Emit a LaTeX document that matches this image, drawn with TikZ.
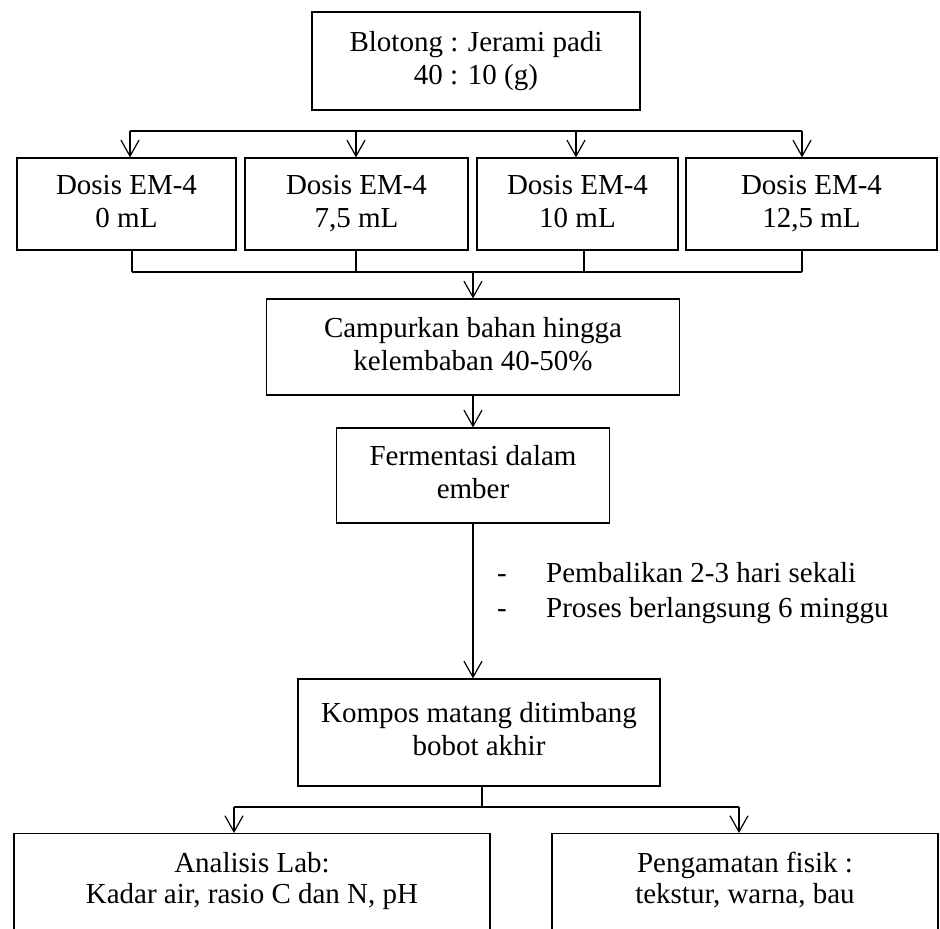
\documentclass[tikz,border=0pt]{standalone}
\usepackage{fontspec}
\setmainfont{Liberation Serif}
\usetikzlibrary{arrows.meta}
\begin{document}
\begin{tikzpicture}[x=1pt,y=-1pt,
  every node/.style={font=\fontsize{29}{33}\selectfont, inner sep=0pt},
  box/.style={draw, line width=1.2pt, align=center},
  con/.style={line width=1.2pt},
  arr/.style={con, -{Straight Barb[length=16pt,width=18pt]}}]
\useasboundingbox (0,0) rectangle (940,929);
\clip (0,0) rectangle (940,929);

% top box
\node[box, minimum width=328pt, minimum height=98pt] (top) at (476,61) {Blotong : Jerami padi\strut\\40 : 10 (g)\strut};

% dose boxes
\node[box, minimum width=219pt, minimum height=92pt] (d1) at (126.5,204) {Dosis EM-4\strut\\0 mL\strut};
\node[box, minimum width=223pt, minimum height=92pt] (d2) at (356.5,204) {Dosis EM-4\strut\\7,5 mL\strut};
\node[box, minimum width=201pt, minimum height=92pt] (d3) at (577.5,204) {Dosis EM-4\strut\\10 mL\strut};
\node[box, minimum width=251pt, minimum height=92pt] (d4) at (811.5,204) {Dosis EM-4\strut\\12,5 mL\strut};

% distribution line
\coordinate (s1) at (130,131);
\coordinate (s2) at (356,131);
\coordinate (s3) at (576,131);
\coordinate (s4) at (802,131);
\draw[con] (s1) -- (s4);
\draw[arr] (s1) -- (s1 |- d1.north);
\draw[arr] (s2) -- (s2 |- d2.north);
\draw[arr] (s3) -- (s3 |- d3.north);
\draw[arr] (s4) -- (s4 |- d4.north);

% merge line
\coordinate (j1) at (132,272);
\coordinate (j2) at (356,272);
\coordinate (j3) at (584,272);
\coordinate (j4) at (802,272);
\coordinate (m) at (473,272);
\draw[con] (j1 |- d1.south) -- (j1);
\draw[con] (j2 |- d2.south) -- (j2);
\draw[con] (j3 |- d3.south) -- (j3);
\draw[con] (j4 |- d4.south) -- (j4);
\draw[con] (j1) -- (j4);

% middle chain
\node[box, minimum width=413pt, minimum height=96pt] (camp) at (473,347) {Campurkan bahan hingga\strut\\kelembaban 40-50\%\strut};
\node[box, minimum width=273pt, minimum height=95pt] (ferm) at (473,475.5) {Fermentasi dalam\strut\\ember\strut};
\node[box, minimum width=362pt, minimum height=107pt] (komp) at (479,732.5) {Kompos matang ditimbang\strut\\bobot akhir\strut};
\draw[arr] (m) -- (m |- camp.north);
\draw[arr] (camp) -- (ferm);
\draw[arr] (ferm.south) -- (ferm.south |- komp.north);

% notes
\node[anchor=base west] (n1d) at (497,582) {-};
\node[anchor=base west] (n1) at (546,582) {Pembalikan 2-3 hari sekali};
\node[anchor=base west] (n2d) at (497,617) {-};
\node[anchor=base west] (n2) at (546,617) {Proses berlangsung 6 minggu};

% bottom boxes
\node[box, minimum width=476pt, minimum height=140pt, anchor=north] (lab) at (252,833) {};
\node[box, minimum width=386pt, minimum height=140pt, anchor=north] (fis) at (745,833) {};
\node[anchor=base] (lab1) at (252,872) {Analisis Lab:};
\node[anchor=base] (lab2) at (252,903) {Kadar air, rasio C dan N, pH};
\node[anchor=base] (fis1) at (745,872) {Pengamatan fisik :};
\node[anchor=base] (fis2) at (745,903) {tekstur, warna, bau};

% split
\coordinate (sp) at (482,807);
\coordinate (b1) at (234,807);
\coordinate (b2) at (739,807);
\draw[con] (sp |- komp.south) -- (sp);
\draw[con] (b1) -- (b2);
\draw[arr] (b1) -- (b1 |- lab.north);
\draw[arr] (b2) -- (b2 |- fis.north);
\end{tikzpicture}
\end{document}
